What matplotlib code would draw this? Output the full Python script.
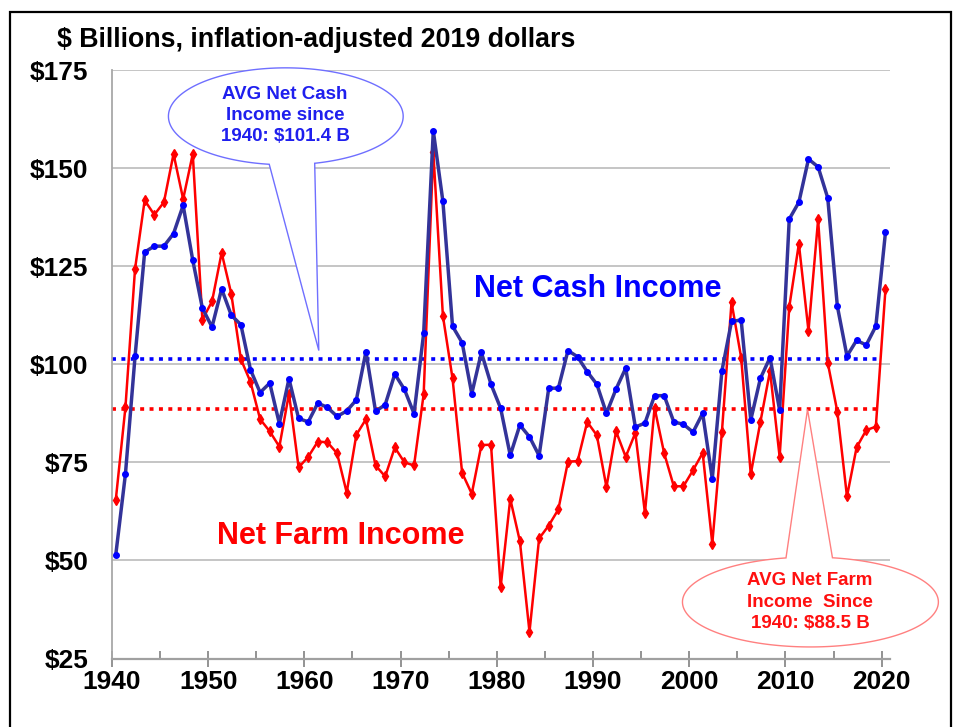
import matplotlib.pyplot as plt
import numpy as np
from matplotlib.patches import Polygon, Rectangle

plt.rcParams['font.family'] = ['Liberation Sans', 'DejaVu Sans']

years = np.arange(1940, 2021)

# net cash income, $ billions (2019 dollars)
cash = np.array([51.5, 72.0, 102.0, 128.6, 130.1, 130.1, 133.3, 140.5, 126.5, 114.3,
                 109.5, 119.2, 112.5, 110.1, 98.6, 92.8, 95.2, 84.9, 96.3, 86.2,
                 85.3, 90.1, 89.0, 86.7, 88.1, 90.9, 103.2, 88.0, 89.7, 97.5,
                 93.6, 87.4, 107.9, 159.5, 141.5, 109.7, 105.5, 92.5, 103.0, 94.9,
                 88.8, 76.8, 84.5, 81.5, 76.7, 93.9, 93.9, 103.5, 101.9, 98.1,
                 94.9, 87.5, 93.7, 99.0, 84.0, 85.0, 92.0, 92.0, 85.3, 84.7,
                 82.7, 87.5, 70.8, 98.3, 110.9, 111.3, 85.8, 96.4, 101.7, 88.3,
                 137.0, 141.3, 152.3, 150.3, 142.4, 114.8, 102.1, 106.1, 104.9, 109.7,
                 133.6])

# net farm income
farm = np.array([65.5, 89.0, 124.3, 141.8, 138.1, 141.3, 153.6, 142.1, 153.6, 111.4,
                 116.0, 128.4, 118.0, 101.3, 95.5, 86.0, 82.9, 79.0, 92.5, 73.7,
                 76.4, 80.3, 80.1, 77.3, 67.3, 82.0, 86.0, 74.2, 71.4, 78.8,
                 75.0, 74.2, 92.4, 154.2, 112.3, 96.4, 72.3, 67.0, 79.4, 79.5,
                 43.2, 65.7, 54.9, 31.8, 55.6, 58.9, 63.0, 75.2, 75.3, 85.3,
                 81.9, 68.7, 82.9, 76.4, 82.5, 62.1, 88.9, 77.3, 68.9, 68.9,
                 73.0, 77.4, 54.3, 82.8, 115.8, 101.7, 72.0, 85.3, 98.3, 76.4,
                 114.6, 130.7, 108.5, 136.9, 100.4, 87.9, 66.3, 78.8, 83.2, 84.1,
                 119.1])

avg_cash = 101.4
avg_farm = 88.5

yticks = [25, 50, 75, 100, 125, 150, 175]
ytick_labels = ['$25', '$50', '$75', '$100', '$125', '$150', '$175']
xticks = list(range(1940, 2021, 10))


def callout(ax, cx, cy, w, h, x0, x1, apex, edge):
    t = np.linspace(0, 2 * np.pi, 500)
    px = cx + w / 2 * np.cos(t)
    py = cy + h / 2 * np.sin(t)
    side = np.sign(apex[1] - cy)
    cut = (px > x0) & (px < x1) & (np.sign(py - cy) == side)
    i = np.argmax(cut)
    pts = list(zip(px[:i], py[:i])) + [apex] + list(zip(px[i:][~cut[i:]], py[i:][~cut[i:]]))
    ax.add_patch(Polygon(pts, closed=True, fc='white', ec=edge, lw=1,
                         zorder=6, clip_on=False))


fig = plt.figure(figsize=(9.61, 7.27), dpi=100)
ax = fig.add_axes([0.1165, 0.0942, 0.8099, 0.8095])

# points sit mid-year
x = years + 0.4
ax.hlines(avg_cash, 1940, 2019.9, colors='#0000FF', lw=2.6, linestyles=(0, (1.1, 1.5)), zorder=2)
ax.hlines(avg_farm, 1940, 2019.9, colors='#FF0000', lw=2.6, linestyles=(0, (1.1, 1.5)), zorder=2)
ax.plot(x, farm, color='#FF0000', lw=1.8, marker='d', ms=5, mfc='#FF0000', mec='#FF0000', zorder=3)
ax.plot(x, cash, color='#333399', lw=2.5, marker='o', ms=4, mfc='#0000FF', mec='#0000FF', zorder=4)

ax.set_xlim(1940, 2020.9)
ax.set_ylim(25, 175)
ax.set_yticks(yticks)
ax.set_yticklabels(ytick_labels)
ax.set_xticks(xticks)
ax.set_xticks(list(range(1945, 2020, 10)), minor=True)
ax.yaxis.grid(True, color='#C0C0C0', lw=1.3)
ax.set_axisbelow(True)
for s in ['top', 'right']:
    ax.spines[s].set_visible(False)
ax.spines['bottom'].set_color('#A0A0A0')
ax.spines['bottom'].set_linewidth(1.6)
ax.spines['left'].set_color('#A8A8A8')
ax.spines['left'].set_linewidth(1.3)
ax.tick_params(axis='y', length=0, pad=17, labelsize=19)
ax.tick_params(axis='x', which='major', direction='inout', length=11, width=1.2,
               color='#808080', pad=3, labelsize=19)
ax.tick_params(axis='x', which='minor', direction='in', length=6, width=1.2, color='#808080')
for lab in ax.get_xticklabels() + ax.get_yticklabels():
    lab.set_fontweight('bold')

ax.text(1990.5, 119.2, 'Net Cash Income', color='#0000FF', fontsize=22,
        fontweight='bold', ha='center', va='center', zorder=5)
ax.text(1963.8, 56.3, 'Net Farm Income', color='#FF0000', fontsize=22,
        fontweight='bold', ha='center', va='center', zorder=5)

callout(ax, 1958.07, 163.2, 24.4, 24.7, 1956.4, 1961.0, (1961.5, 103.5), '#6F6FFF')
ax.text(1958.0, 163.4, 'AVG Net Cash\nIncome since\n1940: $101.4 B', color='#1F1FEE',
        fontsize=13.5, fontweight='bold', ha='center', va='center', zorder=7, linespacing=1.33)

callout(ax, 2012.6, 39.4, 26.6, 22.9, 2010.1, 2014.8, (2012.3, 88.5), '#FF8080')
ax.text(2012.55, 39.4, 'AVG Net Farm\nIncome  Since\n1940: $88.5 B', color='#FF1010',
        fontsize=13.5, fontweight='bold', ha='center', va='center', zorder=7,
        linespacing=1.33, clip_on=False)

fig.text(57 / 961, 1 - 40 / 727, '$ Billions, inflation-adjusted 2019 dollars',
         fontsize=19.3, fontweight='bold', va='center', ha='left')

fig.patches.append(Rectangle((10 / 961, -0.1), 941 / 961, 1.1 - 12.5 / 727,
                             transform=fig.transFigure, fill=False, ec='black', lw=1.6))

plt.savefig('out.png', dpi=100)
